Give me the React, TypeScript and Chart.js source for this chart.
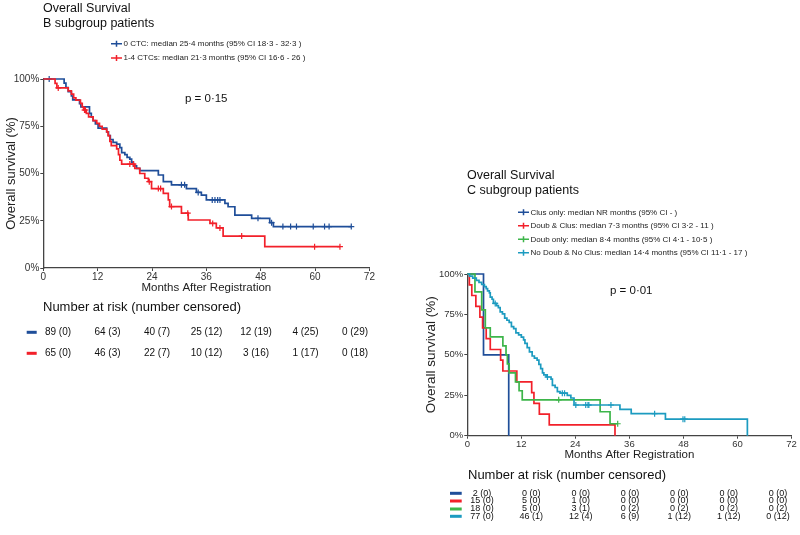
import React, { useEffect, useRef } from 'react';
import { Chart, registerables } from 'chart.js';

Chart.register(...registerables);

const FONT = "'Liberation Sans', Arial, Helvetica, sans-serif";

// ---------- shared axes ----------
const monthTicks = [0, 12, 24, 36, 48, 60, 72];
const survTicks = [0, 25, 50, 75, 100];
const xTitle = 'Months After Registration';
const yTitle = 'Overall survival (%)';
const riskHeader = 'Number at risk (number censored)';

// ---------- Panel B ----------
const bTitle = ['Overall Survival', 'B subgroup patients'];
const bPValue = 'p = 0\u00b715';
const bLabels = [
  '0 CTC: median 25\u00b74 months (95% CI 18\u00b73 - 32\u00b73 )',
  '1-4 CTCs: median 21\u00b73 months (95% CI 16\u00b76 - 26 )',
];
const bColors = ['#1f4e99', '#f2202a'];

const b0Times = [0, 4.6, 5.0, 5.5, 6.2, 6.5, 8.0, 8.3, 10.2, 10.6, 11.0, 11.5, 12.1, 14.0, 14.4, 14.8, 15.4, 16.2, 16.9, 17.3, 18.0, 18.5, 19.1, 19.5, 19.9, 20.6, 21.3, 25.4, 26.5, 28.3, 31.6, 33.8, 34.9, 36.0, 40.1, 40.8, 42.3, 46.0, 50.0, 50.8, 68.0];
const b0Surv = [100, 97.8, 95.5, 93.3, 91, 89, 87, 85.3, 81.8, 80, 78, 76.3, 74, 72, 70, 68, 66.5, 65.5, 63.7, 61, 60, 58.5, 57.6, 56, 54, 52.7, 51.5, 49.2, 45.7, 44, 42, 40, 38.6, 36, 34.2, 32.4, 28, 26.3, 24, 21.9, 21.9];
const b0Cens = [1.3, 30.5, 31.2, 34.2, 37.3, 37.9, 38.5, 39.0, 47.4, 50.4, 52.9, 54.6, 55.9, 59.6, 62.1, 63.1, 68.0];

const b1Times = [0, 2.6, 3.0, 5.5, 6.2, 6.7, 7.2, 8.2, 8.6, 8.9, 9.5, 10.0, 11.0, 11.8, 12.4, 13.0, 14.0, 14.3, 14.7, 15.0, 16.2, 16.6, 16.9, 17.3, 20.2, 21.3, 22.4, 23.2, 23.9, 26.5, 27.6, 27.9, 30.5, 32.0, 36.8, 38.2, 39.7, 48.9, 65.5];
const b1Surv = [100, 97.7, 95.3, 93.7, 92, 90, 88.8, 87.1, 85.3, 83.6, 81.8, 80, 78, 76.5, 75, 73.5, 72, 70, 67, 64.7, 63, 60, 57, 55, 52.7, 50, 47.5, 45.7, 42, 39.5, 36, 32.5, 29, 25.4, 23.6, 21.2, 16.9, 11.3, 11.3];
const b1Cens = [3.3, 9.1, 9.3, 19.1, 19.9, 23.4, 25.4, 25.9, 28.3, 31.9, 37.4, 39.0, 43.8, 59.9, 65.5];

const b0AtRisk = [89, 64, 40, 25, 12, 4, 0];
const b0Censored = [0, 3, 7, 12, 19, 25, 29];
const b1AtRisk = [65, 46, 22, 10, 3, 1, 0];
const b1Censored = [0, 3, 7, 12, 16, 17, 18];

// ---------- Panel C ----------
const cTitle = ['Overall Survival', 'C subgroup patients'];
const cPValue = 'p = 0\u00b701';
const cLabels = [
  'Clus only: median NR months (95% CI - )',
  'Doub & Clus: median 7\u00b73 months (95% CI 3\u00b72 - 11 )',
  'Doub only: median 8\u00b74 months (95% CI 4\u00b71 - 10\u00b75 )',
  'No Doub & No Clus: median 14\u00b74 months (95% CI 11\u00b71 - 17 )',
];
const cColors = ['#1f4e99', '#f2202a', '#3db54a', '#1c9bc0'];

const c0Times = [0, 3.6, 9.2];
const c0Surv = [100, 50, 0];
const c0Cens: number[] = [];

const c1Times = [0, 0.45, 1.0, 1.9, 2.8, 3.4, 4.2, 5.1, 7.4, 7.9, 11.0, 14.3, 14.8, 16.0, 18.2, 32.8];
const c1Surv = [100, 93.3, 86.7, 80, 73.3, 66.7, 60, 53.3, 46.7, 40, 33.3, 26.7, 20, 13.3, 6.7, 0];
const c1Cens: number[] = [];

const c2Times = [0, 1.7, 3.2, 4.0, 5.1, 7.9, 8.6, 8.9, 9.3, 10.7, 11.5, 12.2, 29.5, 31.7, 33.4];
const c2Surv = [100, 88.9, 77.8, 66.7, 61.1, 55.6, 50, 44.4, 38.9, 33.3, 27.8, 22.2, 14.8, 7.4, 7.4];
const c2Cens = [20.3, 33.4];

const c3Times = [0, 0.5, 1.2, 2.0, 2.6, 3.2, 3.8, 4.2, 4.5, 4.9, 5.1, 5.5, 5.8, 6.5, 6.9, 7.3, 7.8, 8.3, 8.8, 9.3, 9.8, 10.3, 10.8, 11.4, 12.0, 12.5, 12.8, 13.3, 13.8, 14.4, 14.9, 15.5, 15.9, 16.3, 16.7, 17.0, 17.5, 18.6, 18.9, 19.5, 20.0, 20.6, 22.2, 23.0, 23.7, 33.9, 36.4, 44.0, 62.2];
const c3Surv = [100, 98.7, 97.4, 96.1, 94.8, 93.5, 92.2, 90.9, 89.6, 88.3, 85.7, 84.4, 81.8, 80.5, 79.2, 76.6, 75.3, 72.7, 71.4, 70.1, 67.5, 66.2, 63.6, 62.3, 61, 59.2, 57.1, 54.5, 51.9, 49.3, 48, 46.7, 44.1, 41.5, 38.9, 37.6, 36.3, 35, 31.1, 29.8, 27.2, 26.3, 25, 23.3, 19, 16.3, 13.6, 10.2, 0];
const c3Cens = [6.2, 17.8, 21.1, 21.6, 24.1, 26.3, 26.8, 27.0, 31.9, 41.6, 47.9, 48.3];

const c0AtRisk = [2, 0, 0, 0, 0, 0, 0];
const c0Censored = [0, 0, 0, 0, 0, 0, 0];
const c1AtRisk = [15, 5, 1, 0, 0, 0, 0];
const c1Censored = [0, 0, 0, 0, 0, 0, 0];
const c2AtRisk = [18, 5, 3, 0, 0, 0, 0];
const c2Censored = [0, 0, 1, 2, 2, 2, 2];
const c3AtRisk = [77, 46, 12, 6, 1, 1, 0];
const c3Censored = [0, 1, 4, 9, 12, 12, 12];

// ---------- helpers ----------
type Series = {
  label: string;
  color: string;
  times: number[];
  surv: number[];
  cens: number[];
  atRisk: number[];
  censored: number[];
};

function survAt(s: Series, t: number) {
  let v = s.surv[0];
  for (let i = 0; i < s.times.length; i++) if (s.times[i] <= t) v = s.surv[i];
  return v;
}

const bSeries: Series[] = [
  { label: bLabels[0], color: bColors[0], times: b0Times, surv: b0Surv, cens: b0Cens, atRisk: b0AtRisk, censored: b0Censored },
  { label: bLabels[1], color: bColors[1], times: b1Times, surv: b1Surv, cens: b1Cens, atRisk: b1AtRisk, censored: b1Censored },
];
const cSeries: Series[] = [
  { label: cLabels[0], color: cColors[0], times: c0Times, surv: c0Surv, cens: c0Cens, atRisk: c0AtRisk, censored: c0Censored },
  { label: cLabels[1], color: cColors[1], times: c1Times, surv: c1Surv, cens: c1Cens, atRisk: c1AtRisk, censored: c1Censored },
  { label: cLabels[2], color: cColors[2], times: c2Times, surv: c2Surv, cens: c2Cens, atRisk: c2AtRisk, censored: c2Censored },
  { label: cLabels[3], color: cColors[3], times: c3Times, surv: c3Surv, cens: c3Cens, atRisk: c3AtRisk, censored: c3Censored },
];

type Decor = {
  title: string[];
  titleX: number;
  titleY: number[];
  legendX: number;
  legendY: number[];
  p: string;
  pX: number;
  pY: number;
  riskX: number;
  riskY: number;
  rowY: number[];
  rowFont: number;
  dashX: number;
  dashW: number;
  colX0: number;
  colX1: number;
};

function decorPlugin(series: Series[], d: Decor) {
  return {
    id: 'decor',
    afterDraw(chart: any) {
      const ctx = chart.ctx as CanvasRenderingContext2D;
      ctx.save();
      ctx.textAlign = 'left';
      ctx.fillStyle = '#111';
      ctx.textBaseline = 'alphabetic';
      ctx.font = `12.5px ${FONT}`;
      d.title.forEach((t, i) => ctx.fillText(t, d.titleX, d.titleY[i]));

      ctx.textBaseline = 'middle';
      ctx.font = `8px ${FONT}`;
      series.forEach((s, i) => {
        const y = d.legendY[i];
        ctx.strokeStyle = s.color;
        ctx.lineWidth = 1.5;
        ctx.beginPath();
        ctx.moveTo(d.legendX, y);
        ctx.lineTo(d.legendX + 11, y);
        ctx.moveTo(d.legendX + 5.5, y - 3);
        ctx.lineTo(d.legendX + 5.5, y + 3);
        ctx.stroke();
        ctx.fillStyle = '#222';
        ctx.fillText(s.label, d.legendX + 12.5, y);
      });

      ctx.fillStyle = '#111';
      ctx.font = `11.5px ${FONT}`;
      ctx.fillText(d.p, d.pX, d.pY);

      ctx.font = `13px ${FONT}`;
      ctx.fillText(riskHeader, d.riskX, d.riskY);

      ctx.font = `${d.rowFont}px ${FONT}`;
      ctx.textAlign = 'center';
      series.forEach((s, i) => {
        const y = d.rowY[i];
        ctx.fillStyle = s.color;
        ctx.fillRect(d.dashX, y - 1.5, d.dashW, 3);
        ctx.fillStyle = '#111';
        monthTicks.forEach((m, j) => {
          const x = d.colX0 + (m / 72) * (d.colX1 - d.colX0);
          ctx.fillText(`${s.atRisk[j]} (${s.censored[j]})`, x, y);
        });
      });
      ctx.restore();
    },
  };
}

type Frame = {
  padding: { left: number; top: number; right: number; bottom: number };
  yWidth: number;
  xHeight: number;
  yTitlePad: number;
  tickFont: number;
  yTitleFont: number;
};

function buildConfig(series: Series[], frame: Frame, decor: Decor) {
  const n = series.length;
  const datasets: any[] = [];
  series.forEach((s, i) => {
    datasets.push({
      data: s.times.map((t, k) => ({ x: t, y: s.surv[k] })),
      showLine: true,
      stepped: true,
      borderColor: s.color,
      backgroundColor: s.color,
      borderWidth: 1.7,
      pointRadius: 0,
      fill: false,
      clip: false,
      order: n - i,
    });
  });
  series.forEach((s, i) => {
    datasets.push({
      data: s.cens.map((t) => ({ x: t, y: survAt(s, t) })),
      showLine: false,
      pointStyle: 'cross',
      pointRadius: 3,
      pointBorderWidth: 1.2,
      borderColor: s.color,
      backgroundColor: s.color,
      clip: false,
      order: n - i,
    });
  });
  const axisColor = '#444';
  return {
    type: 'scatter' as const,
    data: { datasets },
    options: {
      responsive: false,
      animation: false,
      events: [],
      layout: { padding: frame.padding },
      plugins: { legend: { display: false }, tooltip: { enabled: false } },
      scales: {
        x: {
          type: 'linear',
          min: 0,
          max: 72,
          afterBuildTicks: (s: any) => {
            s.ticks = monthTicks.map((v) => ({ value: v }));
          },
          ticks: { font: { family: FONT, size: frame.tickFont, lineHeight: 1 }, color: '#333', padding: 1, maxRotation: 0, autoSkip: false },
          grid: { display: true, drawOnChartArea: false, drawTicks: true, tickLength: 3, color: axisColor, lineWidth: 1 },
          border: { display: true, color: axisColor, width: 1.3 },
          title: { display: true, text: xTitle, font: { family: FONT, size: 11.5 }, color: '#222', padding: { top: 0, bottom: 0 } },
          afterFit: (s: any) => {
            s.height = frame.xHeight;
            s.paddingLeft = 0;
            s.paddingRight = 0;
          },
        },
        y: {
          type: 'linear',
          min: 0,
          max: 100,
          afterBuildTicks: (s: any) => {
            s.ticks = survTicks.map((v) => ({ value: v }));
          },
          ticks: { font: { family: FONT, size: frame.tickFont }, color: '#333', padding: 1, callback: (v: any) => `${v}%` },
          grid: { display: true, drawOnChartArea: false, drawTicks: true, tickLength: 3, color: axisColor, lineWidth: 1 },
          border: { display: true, color: axisColor, width: 1.3 },
          title: { display: true, text: yTitle, font: { family: FONT, size: frame.yTitleFont }, color: '#222', padding: { top: frame.yTitlePad, bottom: 0 } },
          afterFit: (s: any) => {
            s.width = frame.yWidth;
            s.paddingTop = 0;
            s.paddingBottom = 0;
          },
        },
      },
    },
    plugins: [decorPlugin(series, decor)],
  };
}

const bFrame: Frame = { padding: { left: 0, top: 79, right: 30.6, bottom: 240 }, yWidth: 43.3, xHeight: 27, yTitlePad: 4, tickFont: 10, yTitleFont: 13 };
const bDecor: Decor = {
  title: bTitle, titleX: 43, titleY: [12, 26.5],
  legendX: 111, legendY: [43.7, 58],
  p: bPValue, pX: 185, pY: 99,
  riskX: 43, riskY: 307,
  rowY: [332.3, 353.3], rowFont: 10, dashX: 26.7, dashW: 10,
  colX0: 58, colX1: 355,
};

const cFrame: Frame = { padding: { left: 23, top: 274, right: 8.5, bottom: 73.3 }, yWidth: 44.3, xHeight: 26, yTitlePad: 0, tickFont: 9.5, yTitleFont: 13.5 };
const cDecor: Decor = {
  title: cTitle, titleX: 67, titleY: [179, 194],
  legendX: 118, legendY: [212.3, 225.7, 239.3, 252.7],
  p: cPValue, pX: 210, pY: 290.7,
  riskX: 68, riskY: 475.5,
  rowY: [493.3, 501, 509, 516.3], rowFont: 9, dashX: 50, dashW: 11.7,
  colX0: 82, colX1: 378,
};

export default function App() {
  const leftRef = useRef<HTMLCanvasElement | null>(null);
  const rightRef = useRef<HTMLCanvasElement | null>(null);

  useEffect(() => {
    const charts: Chart[] = [];
    if (leftRef.current) charts.push(new Chart(leftRef.current, buildConfig(bSeries, bFrame, bDecor) as any));
    if (rightRef.current) charts.push(new Chart(rightRef.current, buildConfig(cSeries, cFrame, cDecor) as any));
    return () => charts.forEach((c) => c.destroy());
  }, []);

  return (
    <div style={{ position: 'absolute', left: 0, top: 0, width: 800, height: 535, background: '#fff', overflow: 'hidden' }}>
      <canvas ref={leftRef} width={400} height={535} style={{ position: 'absolute', left: 0, top: 0, width: 400, height: 535 }} />
      <canvas ref={rightRef} width={400} height={535} style={{ position: 'absolute', left: 400, top: 0, width: 400, height: 535 }} />
    </div>
  );
}
